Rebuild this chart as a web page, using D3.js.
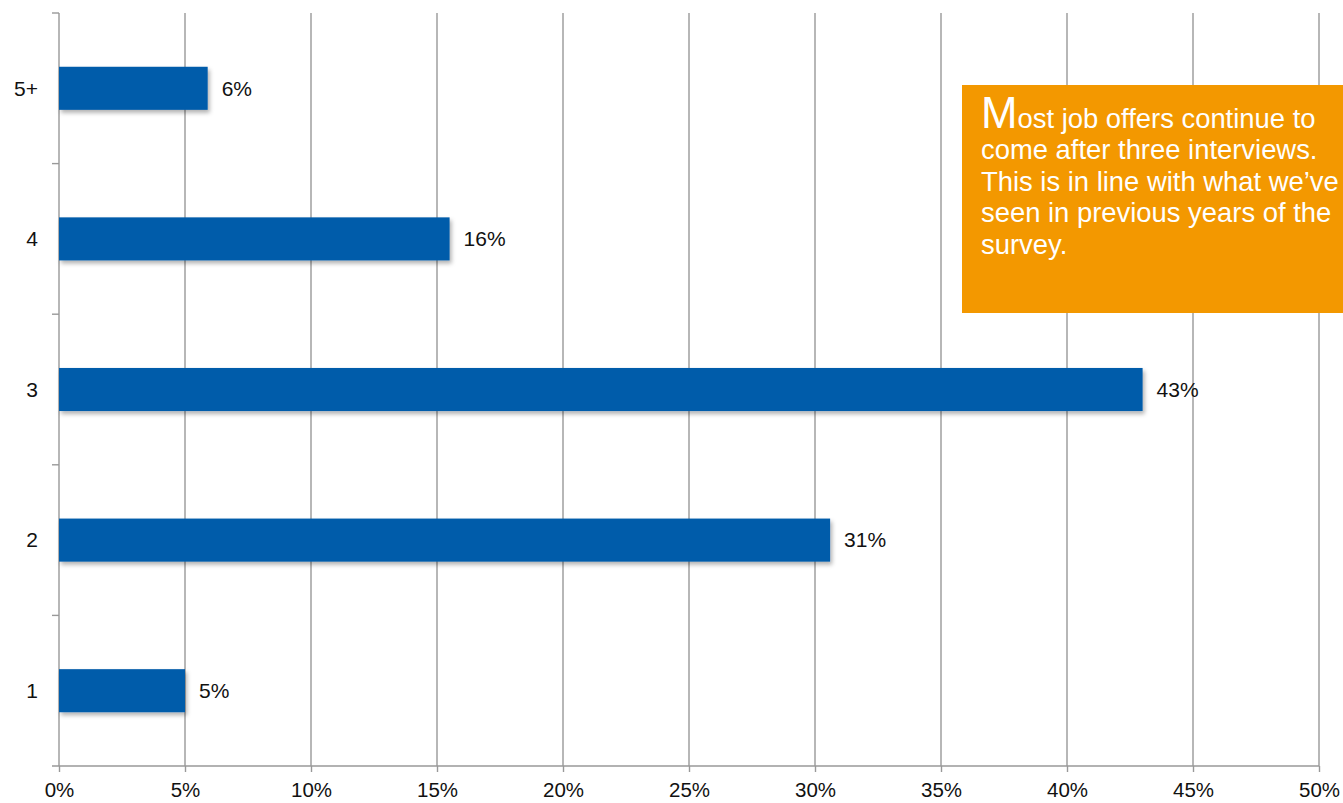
<!DOCTYPE html>
<html>
<head>
<meta charset="utf-8">
<script src="https://cdn.jsdelivr.net/npm/d3@7"></script>
<style>
  html, body { margin: 0; padding: 0; background: #fff; overflow: hidden; }
  svg { display: block; }
</style>
</head>
<body>
<svg id="chart" width="1343" height="803"></svg>
<script>
// Number of interviews before a job offer, share of respondents (%)
const categories = ["5+", "4", "3", "2", "1"];
const shares = [5.9, 15.5, 43.0, 30.6, 5.0];
const xTicks = [0, 5, 10, 15, 20, 25, 30, 35, 40, 45, 50];
const noteLines = [
  "Most job offers continue to",
  "come after three interviews.",
  "This is in line with what we\u2019ve",
  "seen in previous years of the",
  "survey."
];

const W = 1343, H = 803;
const margin = { left: 59, right: 24, top: 13, bottom: 37 };
const svg = d3.select("#chart");

const x = d3.scaleLinear()
  .domain([0, 50])
  .range([margin.left, W - margin.right]);

const y = d3.scaleBand()
  .domain(categories)
  .range([margin.top, H - margin.bottom])
  .paddingInner(0.714)
  .paddingOuter(0.357);

const gridColor = "#999";
const baseY = H - margin.bottom;
const labelFont = "'Liberation Sans', Arial, sans-serif";

// drop shadow under the bars
const defs = svg.append("defs");
const shadow = defs.append("filter").attr("id", "barShadow")
  .attr("x", "-5%").attr("y", "-30%").attr("width", "115%").attr("height", "170%");
shadow.append("feDropShadow")
  .attr("dx", 2).attr("dy", 3).attr("stdDeviation", 2)
  .attr("flood-color", "#000").attr("flood-opacity", 0.3);

// vertical gridlines
svg.append("g")
  .attr("class", "grid")
  .selectAll("line")
  .data(xTicks.slice(1))
  .join("line")
  .attr("x1", d => x(d)).attr("x2", d => x(d))
  .attr("y1", margin.top).attr("y2", baseY)
  .attr("stroke", gridColor).attr("stroke-width", 1.4);

// bottom axis
const xAxis = d3.axisBottom(x)
  .tickValues(xTicks)
  .tickSize(6)
  .tickPadding(10)
  .tickFormat(d => d + "%");

const gx = svg.append("g")
  .attr("transform", `translate(0,${baseY})`)
  .call(xAxis);
gx.select(".domain").remove();
gx.selectAll(".tick line").attr("stroke", gridColor).attr("stroke-width", 1.4);
gx.selectAll(".tick text")
  .attr("font-family", labelFont)
  .attr("font-size", 20.5)
  .attr("fill", "#111");

// left axis line with ticks at category boundaries
const tickLen = 7;
svg.append("line")
  .attr("x1", x(0)).attr("x2", x(0))
  .attr("y1", margin.top).attr("y2", baseY)
  .attr("stroke", gridColor).attr("stroke-width", 1.4);
svg.append("line")
  .attr("x1", x(0) - tickLen).attr("x2", x(50))
  .attr("y1", baseY).attr("y2", baseY)
  .attr("stroke", gridColor).attr("stroke-width", 1.4);

const boundaries = d3.range(categories.length + 1).map(i => y.range()[0] + i * y.step());
svg.append("g").selectAll("line")
  .data(boundaries.slice(0, -1))
  .join("line")
  .attr("x1", x(0) - tickLen).attr("x2", x(0))
  .attr("y1", d => d).attr("y2", d => d)
  .attr("stroke", gridColor).attr("stroke-width", 1.4);

// category labels
svg.append("g").selectAll("text")
  .data(categories)
  .join("text")
  .attr("x", x(0) - 21)
  .attr("y", d => y(d) + y.bandwidth() / 2)
  .attr("dy", "0.35em")
  .attr("text-anchor", "end")
  .attr("font-family", labelFont)
  .attr("font-size", 21)
  .attr("fill", "#111")
  .text(d => d);

// bars
const rows = categories.map((c, i) => ({ cat: c, value: shares[i] }));
svg.append("g").selectAll("rect")
  .data(rows)
  .join("rect")
  .attr("x", x(0))
  .attr("y", d => y(d.cat))
  .attr("width", d => x(d.value) - x(0))
  .attr("height", y.bandwidth())
  .attr("fill", "#005BAA")
  .attr("filter", "url(#barShadow)");

// value labels
svg.append("g").selectAll("text")
  .data(rows)
  .join("text")
  .attr("x", d => x(d.value) + 14)
  .attr("y", d => y(d.cat) + y.bandwidth() / 2)
  .attr("dy", "0.35em")
  .attr("font-family", labelFont)
  .attr("font-size", 21)
  .attr("fill", "#111")
  .text(d => Math.round(d.value) + "%");

// callout box
const boxX = 962, boxY = 85, boxH = 228;
svg.append("rect")
  .attr("x", boxX).attr("y", boxY)
  .attr("width", W - boxX + 10).attr("height", boxH)
  .attr("fill", "#F39800");

const noteG = svg.append("g")
  .attr("font-family", labelFont)
  .attr("font-size", 27.5)
  .attr("fill", "#fff");

const lineH = 31.5;
const textLeft = 981, firstBase = 128;
const noteText = noteG.selectAll("text")
  .data(noteLines)
  .join("text")
  .attr("x", 0)
  .attr("y", (d, i) => firstBase + i * lineH);

noteText.each(function (d, i) {
  const t = d3.select(this);
  if (i === 0) {
    t.append("tspan").attr("font-size", 44).text(d.charAt(0));
    t.append("tspan").text(d.slice(1));
  } else {
    t.text(d);
  }
});

// condense the note text horizontally so its widest line stays inside the page
const widest = d3.max(noteText.nodes(), n => n.getComputedTextLength());
const sx = Math.min(1, (W - 4 - textLeft) / widest);
noteG.attr("transform", `translate(${textLeft},0) scale(${sx},1)`);
</script>
</body>
</html>
